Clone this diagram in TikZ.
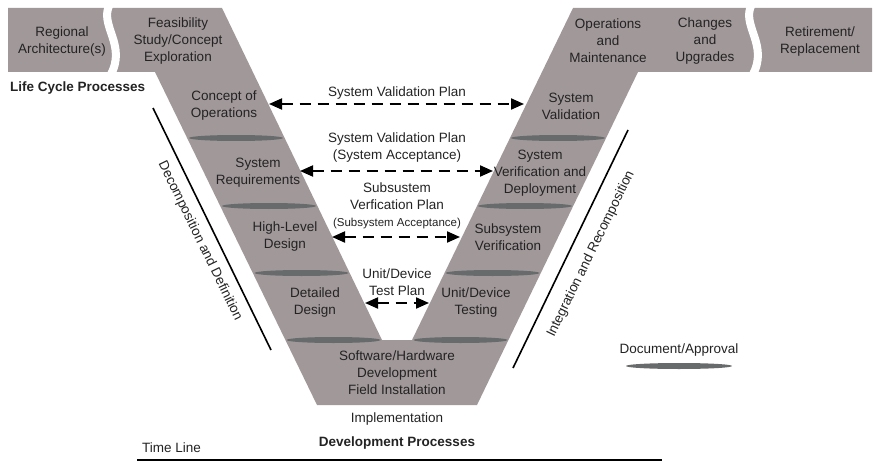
\documentclass[tikz,border=0pt]{standalone}
\usepackage{fontspec}
\setmainfont{Liberation Sans}
\usetikzlibrary{arrows.meta}
\definecolor{band}{RGB}{161,152,154}
\definecolor{doc}{RGB}{104,107,107}
\definecolor{txt}{RGB}{35,35,35}

\begin{document}
\begin{tikzpicture}[x=1pt,y=-1pt,
  every node/.style={text=txt,font=\fontsize{13.5}{17}\selectfont,align=center,inner sep=0pt},
  bold/.style={font=\fontsize{13.5}{17}\selectfont\bfseries},
  plan/.style={line width=2pt,dash pattern=on 11pt off 7pt,
    {Triangle[length=13pt,width=11pt]}-{Triangle[length=13pt,width=11pt]}},
  docu/.style={fill=doc},
  sep/.style={white,line width=8pt}]
\useasboundingbox (0,0) rectangle (877,468);
% the V
\fill[band] (8,8) -- (222,8) -- (382,340) -- (412,340) -- (573,8) -- (872,8)
  -- (872,72) -- (638,72) -- (477,405) -- (317,405) -- (155,72) -- (8,72) -- cycle;
\draw[sep] (110,4) .. controls (98,25) and (128,45) .. (110,76);
\draw[sep] (752,4) .. controls (740,25) and (770,45) .. (752,76);
% documents
\fill[docu] (236,138) ellipse (47pt and 3pt);
\fill[docu] (269,206) ellipse (47pt and 3pt);
\fill[docu] (301.5,273) ellipse (47pt and 3pt);
\fill[docu] (333.5,340) ellipse (47pt and 3pt);
\fill[docu] (558,138) ellipse (47pt and 3pt);
\fill[docu] (525,206) ellipse (47pt and 3pt);
\fill[docu] (492.5,273) ellipse (47pt and 3pt);
\fill[docu] (460.5,340) ellipse (47pt and 3pt);
\fill[docu] (679,366) ellipse (53pt and 3pt);
% stages
\node (RA) at (62,42) {Regional\\Architecture(s)};
\node (FS) at (178,41) {Feasibility\\Study/Concept\\Exploration};
\node (OM) at (608,41) {Operations\\and\\Maintenance};
\node (CU) at (705,41) {Changes\\and\\Upgrades};
\node (RR) at (820,42) {Retirement/\\Replacement};
\node[bold,anchor=west] (LC) at (10,88) {Life Cycle Processes};
\node (CO) at (224,106) {Concept of\\Operations};
\node (SR) at (258,173) {System\\Requirements};
\node (HL) at (285,237) {High-Level\\Design};
\node (DD) at (315,303) {Detailed\\Design};
\node (SW) at (397,373) {Software/Hardware\\Development\\Field Installation};
\node (SV) at (571,106) {System\\Validation};
\node (SVD) at (540,173) {System\\Verification and\\Deployment};
\node (SSV) at (508,237) {Subsystem\\Verification};
\node (UDT) at (476,303) {Unit/Device\\Testing};
\node (IM) at (397,419) {Implementation};
\node[bold] (DP) at (397,443) {Development Processes};
\node[anchor=west] (TL) at (142,448) {Time Line};
\node (DA) at (679,350) {Document/Approval};
% plans
\node (P1) at (397,93) {System Validation Plan};
\node (P2) at (397,148) {System Validation Plan\\(System Acceptance)};
\node (P3) at (397,206) {Subsustem\\Verfication Plan\\{\fontsize{11.5}{14}\selectfont(Subsystem Acceptance)}};
\node (P4) at (397,282) {Unit/Device\\Test Plan};
\coordinate (p1l) at (269,104);
\coordinate (p1r) at (524,104);
\coordinate (p2l) at (300,171);
\coordinate (p2r) at (493,171);
\coordinate (p3l) at (332,237);
\coordinate (p3r) at (460,237);
\coordinate (p4l) at (365,303);
\coordinate (p4r) at (429,303);
\draw[plan] (p1l) -- (p1r);
\draw[plan] (p2l) -- (p2r);
\draw[plan] (p3l) -- (p3r);
\draw[plan] (p4l) -- (p4r);
% side lines
\coordinate (d1) at (153,108);
\coordinate (d2) at (271,350);
\coordinate (i1) at (628,130);
\coordinate (i2) at (513,368);
\coordinate (t1) at (137,460);
\coordinate (t2) at (662,460);
\draw[line width=1.6pt] (d1) -- (d2);
\draw[line width=1.6pt] (i1) -- (i2);
\draw[line width=2pt] (t1) -- (t2);
\node[rotate=-64] (DC) at (200,241) {Decomposition and Definition};
\node[rotate=64] (IR) at (591,254) {Integration and Recomposition};
\end{tikzpicture}
\end{document}
